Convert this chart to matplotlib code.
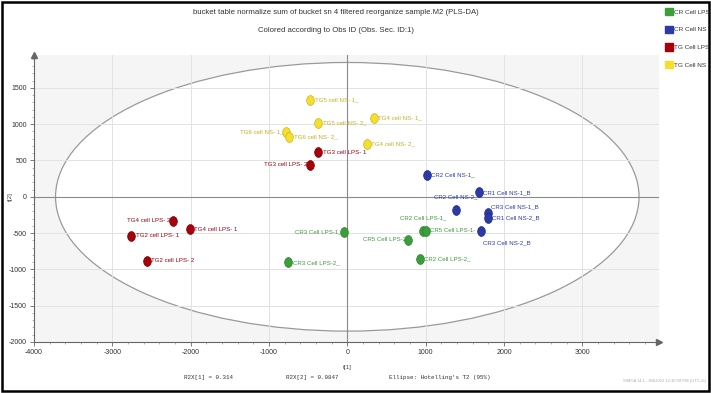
import numpy as np
import matplotlib
matplotlib.use("Agg")
import matplotlib.pyplot as plt
from matplotlib.patches import Ellipse, Patch, Rectangle
from matplotlib.path import Path
from matplotlib.ticker import MultipleLocator

plt.rcParams["axes.unicode_minus"] = False

# score values (t[1], t[2])
labels = [
    "TG5 cell NS- 1_", "TG5 cell NS- 2_", "TG6 cell NS- 1_", "TG6 cell NS- 2_",
    "TG4 cell NS- 1_", "TG4 cell NS- 2_",
    "TG3 cell LPS- 1", "TG3 cell LPS- 2", "TG4 cell LPS- 2", "TG4 cell LPS- 1",
    "TG2 cell LPS- 1", "TG2 cell LPS- 2",
    "CR3 Cell LPS-1_", "CR3 Cell LPS-2_", "CR2 Cell LPS-1_", "CR5 Cell LPS-1-",
    "CR5 Cell LPS-2", "CR2 Cell LPS-2_",
    "CR2 Cell NS-1_", "CR1 Cell NS-1_B", "CR2 Cell NS-2_", "CR3 Cell NS-1_B",
    "CR1 Cell NS-2_B", "CR3 Cell NS-2_B",
]
t1 = [-471, -369, -777, -739, 344, 251,
      -369, -471, -2220, -2013, -2756, -2561,
      -38, -752, 964, 1006, 781, 930,
      1015, 1686, 1384, 1792, 1796, 1703]
t2 = [1334, 1022, 898, 821, 1091, 729,
      615, 440, -330, -444, -536, -880,
      -481, -903, -468, -468, -591, -853,
      303, 60, -179, -220, -289, -468]
groups = ["TG NS"] * 6 + ["TG LPS"] * 6 + ["CR LPS"] * 6 + ["CR NS"] * 6
# where each label sits relative to its marker
placement = ["r", "r", "l", "r", "r", "r",
             "r", "l", "l", "r", "r", "r",
             "l", "r", "u", "r", "l", "r",
             "r", "r", "u", "ur", "r", "dr"]

legend_names = ["CR Cell LPS", "CR Cell NS", "TG Cell LPS", "TG Cell NS"]
legend_keys = ["CR LPS", "CR NS", "TG LPS", "TG NS"]
colors = {"CR LPS": "#3c9f3c", "CR NS": "#2b3aa6", "TG LPS": "#a8000a", "TG NS": "#f4e02c"}
edges = {"CR LPS": "#2c7d2c", "CR NS": "#1d2880", "TG LPS": "#7a0006", "TG NS": "#c9b51a"}
text_cols = {"CR LPS": "#3c9a3c", "CR NS": "#2b3aa6", "TG LPS": "#9a0010", "TG NS": "#c4b020"}

ellipse_a, ellipse_b = 3725, 1850

sans = "Liberation Sans"
mono = "Liberation Mono"

fig = plt.figure(figsize=(7.11, 3.93), dpi=100)
ax = fig.add_axes([34 / 711, 1 - 342 / 393, (659 - 34) / 711, (342 - 54.5) / 393])
ax.set_facecolor("#f5f5f5")
ax.set_xlim(-4000, 3980)
ax.set_ylim(-2000, 1960)

ax.add_patch(Ellipse((0, 0), 2 * ellipse_a, 2 * ellipse_b, facecolor="white",
                     edgecolor="#9a9a9a", lw=0.9, zorder=0.2))
ax.set_axisbelow(True)
ax.grid(True, color="#e2e2e2", lw=0.7)
ax.axhline(0, color="#8a8a8a", lw=0.8, zorder=0.6)
ax.axvline(0, color="#8a8a8a", lw=0.8, zorder=0.6)

# slightly tall oval marker like the original
circ = Path.unit_circle()
oval = Path(circ.vertices * np.array([0.78, 1.0]), circ.codes)

for x, y, g, lab, p in zip(t1, t2, groups, labels, placement):
    ax.scatter(x, y, s=50, marker=oval, color=colors[g], edgecolors=edges[g],
               linewidths=0.5, zorder=3)
    off = {"r": (3, 0), "l": (-2, 0), "u": (0, 9), "ur": (2.5, 4.5), "dr": (1.5, -8.5)}[p]
    ha = {"r": "left", "l": "right", "u": "center", "ur": "left", "dr": "left"}[p]
    ax.annotate(lab, (x, y), xytext=off, textcoords="offset points", ha=ha, va="center",
                fontsize=4.4, color=text_cols[g], family=sans, zorder=4)

for s in ["top", "right"]:
    ax.spines[s].set_visible(False)
for s in ["left", "bottom"]:
    ax.spines[s].set_color("#666666")
    ax.spines[s].set_linewidth(0.8)
ax.xaxis.set_major_locator(MultipleLocator(1000))
ax.xaxis.set_minor_locator(MultipleLocator(200))
ax.yaxis.set_major_locator(MultipleLocator(500))
ax.yaxis.set_minor_locator(MultipleLocator(100))
ax.tick_params(which="major", length=3, width=0.6, color="#666666", labelsize=5, pad=2,
               labelcolor="#333333")
ax.tick_params(which="minor", length=1.5, width=0.5, color="#999999")
for t in ax.get_xticklabels() + ax.get_yticklabels():
    t.set_family(sans)
# arrow heads at the ends of the two axes
ax.plot(1, 0, ">", color="#666666", ms=4, transform=ax.transAxes, clip_on=False)
ax.plot(0, 1, "^", color="#666666", ms=4, transform=ax.transAxes, clip_on=False)

fig.text(336 / 711, 1 - 13 / 393,
         "bucket table normalize sum of bucket sn 4 filtered reorganize sample.M2 (PLS-DA)",
         ha="center", va="center", fontsize=5.6, family=sans, color="#333333")
fig.text(336 / 711, 1 - 30 / 393, "Colored according to Obs ID (Obs. Sec. ID:1)",
         ha="center", va="center", fontsize=5.6, family=sans, color="#333333")

fig.text(10 / 711, 1 - 197 / 393, "t[2]", rotation=90, ha="center", va="center",
         fontsize=4.5, family=sans, color="#444444")
fig.text(347 / 711, 1 - 368 / 393, "t[1]", ha="center", va="center",
         fontsize=4.5, family=sans, color="#444444")
fig.text(208 / 711, 1 - 378 / 393, "R2X[1] = 0.314", ha="center", va="center",
         fontsize=4.2, family=mono, color="#333333")
fig.text(312 / 711, 1 - 378 / 393, "R2X[2] = 0.0847", ha="center", va="center",
         fontsize=4.2, family=mono, color="#333333")
fig.text(440 / 711, 1 - 378 / 393, "Ellipse: Hotelling's T2 (95%)", ha="center", va="center",
         fontsize=4.2, family=mono, color="#333333")
fig.text(706 / 711, 1 - 381 / 393, "SIMCA 14.1 - 8/4/2022 12:30:09 PM (UTC+5)",
         ha="right", va="center", fontsize=3.0, family=sans, color="#aaaaaa")

handles = [Patch(facecolor=colors[k], edgecolor=colors[k]) for k in legend_keys]
leg = fig.legend(handles, legend_names, loc="upper left", bbox_to_anchor=(665 / 711, 1 - 8 / 393),
                 frameon=False, handlelength=1.2, handleheight=1.4,
                 handletextpad=0.25, labelspacing=1.6, borderpad=0, borderaxespad=0,
                 prop={"family": sans, "size": 4.6})
for t in leg.get_texts():
    t.set_color("#333333")

fig.add_artist(Rectangle((0.003, 0.004), 0.994, 0.992, transform=fig.transFigure,
                         fill=False, edgecolor="black", lw=1.8))

fig.savefig("out.png", dpi=100)
